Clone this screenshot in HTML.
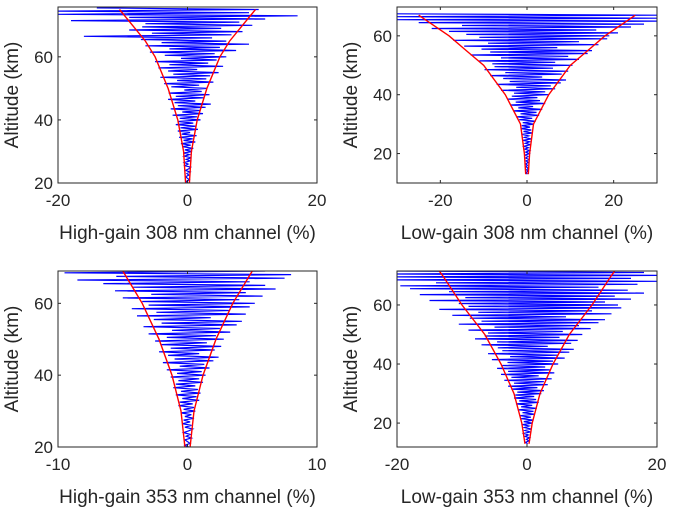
<!DOCTYPE html>
<html><head><meta charset="utf-8"><style>
body{margin:0;background:#fff;}
svg{display:block;font-family:"Liberation Sans",Arial,sans-serif;}
</style></head><body>
<svg id="fig" width="674" height="513" viewBox="0 0 674 513"></svg>
<script>
// Panel data (x values in %, altitude = a0 + i*0.5 km)
const p1Blue=[0.1,-0.2,0.3,0.0,-0.3,0.2,-0.1,0.4,-0.3,0.2,0.5,-0.4,0.1,-0.5,0.4,-0.2,0.6,-0.5,0.3,-0.6,
0.7,-0.4,0.9,-0.8,0.5,-1.0,1.2,-0.6,0.8,-1.3,1.4,-0.9,0.4,-1.5,1.6,-1.1,1.3,-1.8,0.9,-1.4,
2.0,-1.2,1.5,-2.3,2.4,-0.8,1.9,-2.6,2.8,-1.5,3.6,-2.0,1.2,-3.0,2.6,-1.8,3.4,-2.9,2.2,-0.5,
3.0,-2.5,1.8,-3.6,4.0,-1.6,2.9,-4.2,3.5,-2.2,4.8,-3.0,1.5,-4.5,5.5,-2.8,3.2,-5.0,4.5,-1.0,
6.0,-3.5,4.2,-5.8,7.5,-2.8,5.0,-6.5,9.5,-4.0,6.0,-7.2,3.8,-16.0,6.8,-5.5,8.5,-9.0,5.2,-7.0,
10.0,-6.5,8.0,-18.0,12.0,-9.0,17.0,-20,9.5,-20,11,-14];
const p2Blue=[0.1,-0.2,0.2,-0.1,0.3,-0.2,0.1,-0.3,0.3,-0.2,0.4,-0.3,0.2,-0.4,
0.5,-0.3,0.6,-0.5,0.3,-0.7,0.8,-0.4,0.6,-0.9,1.0,-0.6,0.4,-1.1,1.2,-0.8,1.0,-1.4,0.7,-1.2,
1.6,-1.0,2.0,-1.8,1.2,-2.5,2.8,-1.5,2.2,-3.2,3.5,-2.0,1.4,-3.8,4.2,-2.6,3.0,-4.5,2.4,-3.5,
5.0,-3.0,4.2,-6.0,6.5,-2.5,5.5,-7.0,7.8,-4.0,9.0,-5.5,3.5,-8.5,8.0,-5.0,9.5,-9.8,6.0,-7.5,
10.5,-8.0,6.5,-11.0,12.0,-6.0,9.5,-13.0,14.0,-8.5,15.0,-10.5,7.0,-14.5,16.5,-9.0,12.0,-17.0,18.5,-11.0,
19.0,-14.0,21.0,-18.0,16.0,-22.0,24.0,-15.0,27.0,-25.0,30,-30,30,-30,30,-30];
const p3Blue=[0.1,-0.2,0.2,0.0,-0.2,0.3,-0.1,0.2,-0.3,0.1,0.4,-0.2,0.3,-0.4,0.2,-0.3,0.5,-0.2,0.3,-0.5,
0.6,-0.3,0.5,-0.7,0.4,-0.6,0.9,-0.4,0.7,-0.9,1.0,-0.5,0.8,-1.1,0.6,-0.9,1.2,-0.7,0.9,-1.3,
1.4,-0.8,1.1,-1.6,1.7,-0.6,1.3,-1.9,2.0,-1.0,2.4,-1.5,0.9,-2.2,2.1,-1.3,2.6,-2.0,1.5,-2.5,
2.8,-1.6,2.2,-3.0,3.3,-1.2,2.5,-3.4,3.8,-2.0,4.2,-2.6,1.8,-3.9,4.5,-2.4,3.2,-4.3,4.8,-3.0,
5.2,-3.5,4.0,-5.0,5.8,-2.8,4.5,-5.6,6.8,-4.2,6.0,-6.5,4.8,-8.5,7.5,-5.5,8.0,-9.5,6.0,-10];
const p4Blue=[0.1,-0.2,0.3,-0.1,0.4,-0.3,0.2,-0.5,0.5,-0.3,0.6,-0.4,0.3,-0.7,
0.8,-0.5,1.0,-0.9,0.6,-1.1,1.2,-0.7,1.0,-1.4,1.5,-0.9,0.8,-1.7,1.8,-1.2,1.4,-2.0,1.1,-1.8,
2.2,-1.5,2.6,-2.4,1.6,-2.9,3.2,-2.0,2.6,-3.5,3.8,-2.4,1.8,-4.0,4.2,-2.9,3.5,-4.6,2.8,-3.8,
4.8,-3.0,4.0,-5.4,5.8,-2.6,4.8,-6.0,6.5,-3.8,7.2,-4.5,3.2,-7.0,6.8,-4.6,7.8,-8.0,5.0,-6.5,
8.5,-6.0,5.5,-9.0,9.8,-5.0,8.0,-10.5,11.0,-7.0,12.0,-8.8,6.0,-11.5,13.0,-7.5,10.0,-13.5,14.5,-9.0,
14.0,-10.5,12.0,-15.0,16.0,-9.5,13.5,-16.5,18.0,-12.0,15.5,-18.0,11.0,-19.5,17.0,-14.0,20,-20,16.0,-20,
20,-20,18,-20,20,-20,20,-16];
const p1EnvAlt=[20,30,40,50,60,65,70,75];
const p1EnvVal=[0.3,0.6,1.5,3,5,6.5,8.5,10.5];
const p2EnvAlt=[13,20,30,40,50,55,60,65,67];
const p2EnvVal=[0.3,0.6,1.5,5,10,14,18,23,25];
const p3EnvAlt=[20,30,40,50,60,69];
const p3EnvVal=[0.2,0.5,1.2,2.2,3.5,5];
const p4EnvAlt=[13,20,30,40,50,60,70,73];
const p4EnvVal=[0.3,0.8,2,4,6.5,10,13,14];
const xTicks1=[-20,0,20], xTicks2=[-20,0,20], xTicks3=[-10,0,10], xTicks4=[-20,0,20];
const yTicks1=[20,40,60], yTicks2=[20,40,60], yTicks3=[20,40,60], yTicks4=[20,40,60];

const NS="http://www.w3.org/2000/svg";
const svg=document.getElementById('fig');
function mk(t,a,p){const e=document.createElementNS(NS,t);for(const k in a)e.setAttribute(k,a[k]);(p||svg).appendChild(e);return e;}

const panels=[
 {id:'p1',x0:58,x1:317,y0:7,y1:183,xmin:-20,xmax:20,ymin:20,ymax:75.8,blue:p1Blue,a0:20,ea:p1EnvAlt,ev:p1EnvVal,xt:xTicks1,yt:yTicks1,label:'High-gain 308 nm channel (%)'},
 {id:'p2',x0:397,x1:657,y0:7,y1:183,xmin:-30,xmax:30,ymin:10,ymax:69.8,blue:p2Blue,a0:13,ea:p2EnvAlt,ev:p2EnvVal,xt:xTicks2,yt:yTicks2,label:'Low-gain 308 nm channel (%)'},
 {id:'p3',x0:58,x1:317,y0:271,y1:447,xmin:-10,xmax:10,ymin:20,ymax:69,blue:p3Blue,a0:20,ea:p3EnvAlt,ev:p3EnvVal,xt:xTicks3,yt:yTicks3,label:'High-gain 353 nm channel (%)'},
 {id:'p4',x0:397,x1:657,y0:271,y1:447,xmin:-20,xmax:20,ymin:11.9,ymax:71.5,blue:p4Blue,a0:13,ea:p4EnvAlt,ev:p4EnvVal,xt:xTicks4,yt:yTicks4,label:'Low-gain 353 nm channel (%)'}
];
panels.forEach(P=>{
  const sx=v=>P.x0+(v-P.xmin)/(P.xmax-P.xmin)*(P.x1-P.x0);
  const sy=v=>P.y1-(v-P.ymin)/(P.ymax-P.ymin)*(P.y1-P.y0);
  const g=mk('g',{});
  
  
  const cp=mk('clipPath',{id:'c'+P.id},g);
  mk('rect',{x:P.x0,y:P.y0,width:P.x1-P.x0,height:P.y1-P.y0},cp);
  mk('rect',{x:P.x0,y:P.y0,width:P.x1-P.x0,height:P.y1-P.y0,fill:'#fff'},g);
  const d=P.blue.map((v,i)=>(i?'L':'M')+sx(v).toFixed(1)+' '+sy(P.a0+i*0.5).toFixed(1)).join('');
  const bl=mk('path',{d:d,fill:'none',stroke:'#0000ff','stroke-width':1.2,'clip-path':'url(#c'+P.id+')'},g);
  
  
  [1,-1].forEach(s=>{
    const dd=P.ea.map((a,i)=>(i?'L':'M')+sx(s*P.ev[i]).toFixed(1)+' '+sy(a).toFixed(1)).join('');
    const r=mk('path',{d:dd,fill:'none',stroke:'#ff0000','stroke-width':1.4,'clip-path':'url(#c'+P.id+')'},g);
    
    
  });
  mk('rect',{x:P.x0,y:P.y0,width:P.x1-P.x0,height:P.y1-P.y0,fill:'none',stroke:'#262626','stroke-width':1},g);
  P.xt.forEach(t=>{
    const x=sx(t);
    mk('line',{x1:x,x2:x,y1:P.y1,y2:P.y1-3,stroke:'#262626'},g);
    mk('line',{x1:x,x2:x,y1:P.y0,y2:P.y0+3,stroke:'#262626'},g);
    const tx=mk('text',{x:x,y:P.y1+23,'text-anchor':'middle','font-size':17,fill:'#262626'},g);
    tx.textContent=t;
    
    
  });
  P.yt.forEach(t=>{
    const y=sy(t);
    mk('line',{x1:P.x0,x2:P.x0+3,y1:y,y2:y,stroke:'#262626'},g);
    mk('line',{x1:P.x1,x2:P.x1-3,y1:y,y2:y,stroke:'#262626'},g);
    const ty=mk('text',{x:P.x0-5,y:y+6,'text-anchor':'end','font-size':17,fill:'#262626'},g);
    ty.textContent=t;
    
    
  });
  const xl=mk('text',{x:(P.x0+P.x1)/2,y:P.y1+56,'text-anchor':'middle','font-size':19,fill:'#262626'},g);
  xl.textContent=P.label;
  
  
  const cy=(P.y0+P.y1)/2;
  const yl=mk('text',{x:P.x0-40,y:cy,'text-anchor':'middle','font-size':19,fill:'#262626',transform:'rotate(-90 '+(P.x0-40)+' '+cy+')'},g);
  yl.textContent='Altitude (km)';
  
  
});
</script>
</body></html>
